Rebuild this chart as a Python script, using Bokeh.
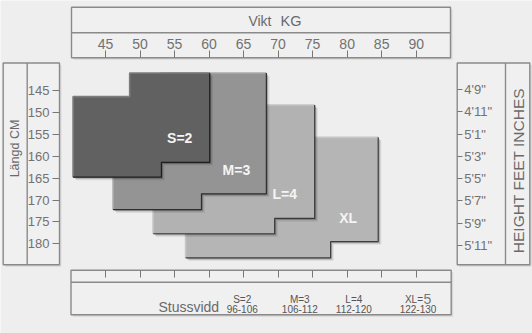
import math
from bokeh.plotting import figure
from bokeh.models import Range1d, LinearAxis, FixedTicker
from bokeh.core.properties import value
from bokeh.embed import file_html
from bokeh.resources import INLINE

# ---------------- data ----------------
size_names = ["S=2", "M=3", "L=4", "XL"]
# weight (kg) borders of each size block
w_left = [40.3, 46.1, 51.9, 56.6]
w_step_top = [48.5, 53.0, 60.0, 65.0]
w_right = [60.1, 68.3, 75.3, 84.5]
w_step_bottom = [53.1, 58.9, 69.5, 77.6]
# height (cm) borders of each size block
h_top_left = [146.4, 150.0, 160.0, 165.0]
h_top = [141.0, 141.0, 148.3, 155.7]
h_bottom_right = [161.4, 168.6, 174.2, 179.5]
h_bottom = [164.8, 172.2, 177.7, 183.2]

weight_ticks = [45, 50, 55, 60, 65, 70, 75, 80, 85, 90]
height_ticks = [145, 150, 155, 160, 165, 170, 175, 180]
feet_inches = [57, 59, 61, 63, 65, 67, 69, 71]
feet_labels = ['4\'9"', '4\'11"', '5\'1"', '5\'3"', '5\'5"', '5\'7"', '5\'9"', '5\'11"']
hip_sizes = ["S=2", "M=3", "L=4", "XL="]
hip_ranges = ["96-106", "106-112", "112-120", "122-130"]

# ---------------- styles / layout ----------------
FILLS = ["#616161", "#949494", "#b2b2b2", "#b5b5b5"]
HIGHLIGHTS = ["#7c7c7c", "#a9a9a9", "#c3c3c3", "#c5c5c5"]
EDGES = ["#1e1e1e", "#2e2e2e", "#3a3a3a", "#3e3e3e"]
BG = "#eeeeee"
PANEL_LINE = "#8a8a8a"
TXT = "#6a6a6a"
FONT = "Liberation Sans"
W, H = 532, 333

# pixel <-> data mapping (screen pixel of known ticks)
X45, PXKG = 105.0, 6.904
Y145, PXCM = 90.0, 4.38


def kg(px):
    return 45 + (px - X45) / PXKG


def cm(py):
    return 145 + (py - Y145) / PXCM


DKG = 1.0 / PXKG   # one pixel in kg
DCM = 1.0 / PXCM   # one pixel in cm

p = figure(width=W, height=H, x_range=Range1d(kg(0), kg(W)), y_range=Range1d(cm(H), cm(0)),
           min_border=0, x_axis_location=None, y_axis_location=None,
           output_backend="svg", toolbar_location=None)
p.outline_line_color = None
p.background_fill_color = BG
p.border_fill_color = BG
p.grid.visible = False

# ---------------- panels ----------------
panels = [  # (left, right, top, bottom) in px
    (71, 450, 6.7, 57.3),
    (2.7, 59, 62.5, 264.3),
    (456.7, 529.3, 62.5, 264.3),
    (70.5, 450.7, 269.7, 314.3),
]
for (l, r, t, b) in panels:
    p.quad(left=kg(l + 2), right=kg(r + 2), top=cm(t + 2), bottom=cm(b + 2),
           fill_color="#d9d9d9", line_color=None)
    p.quad(left=kg(l), right=kg(r), top=cm(t), bottom=cm(b),
           fill_color="#f0f0f0", line_color=PANEL_LINE, line_width=1.4)
# dividers
p.segment(x0=[kg(71), kg(70.5)], x1=[kg(450), kg(450.7)], y0=[cm(32.3), cm(281.7)],
          y1=[cm(32.3), cm(281.7)], line_color=PANEL_LINE, line_width=1.4)
p.segment(x0=[kg(26.7), kg(505)], x1=[kg(26.7), kg(505)], y0=[cm(62.5), cm(62.5)],
          y1=[cm(264.3), cm(264.3)], line_color=PANEL_LINE, line_width=1.4)


def style_axis(ax, size):
    ax.axis_line_color = None
    ax.major_tick_line_color = "#777777"
    ax.minor_tick_line_color = None
    ax.major_tick_in = 0
    ax.major_label_text_font = FONT
    ax.major_label_text_font_size = size
    ax.major_label_text_color = "#727272"


top_ax = LinearAxis(ticker=FixedTicker(ticks=weight_ticks), fixed_location=cm(57.3))
style_axis(top_ax, "14px")
top_ax.major_tick_out = 7
top_ax.major_label_standoff = 2
p.add_layout(top_ax, "above")

bot_ax = LinearAxis(ticker=FixedTicker(ticks=weight_ticks), fixed_location=cm(269.7))
style_axis(bot_ax, "1px")
bot_ax.major_tick_out = 7
bot_ax.major_label_text_color = None
p.add_layout(bot_ax, "below")

left_ax = LinearAxis(ticker=FixedTicker(ticks=height_ticks), fixed_location=kg(59))
style_axis(left_ax, "13px")
left_ax.major_tick_out = 7
left_ax.major_label_standoff = 3
p.add_layout(left_ax, "left")

inch_ticks = [v * 2.54 for v in feet_inches]
right_ax = LinearAxis(ticker=FixedTicker(ticks=inch_ticks), fixed_location=kg(456.7))
style_axis(right_ax, "13px")
right_ax.major_tick_out = 5
right_ax.major_label_standoff = 2
right_ax.major_label_overrides = {t: lab for t, lab in zip(inch_ticks, feet_labels)}
p.add_layout(right_ax, "right")

# ---------------- size blocks ----------------
for i in reversed(range(len(size_names))):
    L, sx, R, bx = w_left[i], w_step_top[i], w_right[i], w_step_bottom[i]
    sy, T, by, B = h_top_left[i], h_top[i], h_bottom_right[i], h_bottom[i]
    xs = [L, sx, sx, R, R, bx, bx, L]
    ys = [sy, sy, T, T, by, by, B, B]
    for off, a in ((3.0, 0.10), (1.6, 0.22)):
        p.patch([x + off * DKG for x in xs], [y + off * DCM for y in ys],
                fill_color="#000000", fill_alpha=a, line_color=None)
    p.patch(xs, ys, fill_color=FILLS[i], line_color=None)
    p.line([L, L, sx, sx, R], [B, sy, sy, T, T], line_color=HIGHLIGHTS[i], line_width=1.6)
    p.line([R, R, bx, bx, L], [T, by, by, B, B], line_color=EDGES[i], line_width=1.2)
    p.text(x=[R - 30 * DKG], y=[by - 24 * DCM], text=[size_names[i]],
           text_font=value(FONT), text_font_style="bold", text_font_size="14px",
           text_color="#f4f4f4", text_align="center", text_baseline="middle")

# ---------------- panel texts ----------------
p.text(x=[kg(271)], y=[cm(20)], text=["Vikt"], text_font=value(FONT),
       text_font_size="14px", text_color=TXT, text_align="right", text_baseline="middle")
p.text(x=[kg(280)], y=[cm(20)], text=["KG"], text_font=value(FONT),
       text_font_size="14.5px", text_color=TXT, text_align="left", text_baseline="middle")
p.text(x=[kg(14)], y=[cm(148)], text=["Längd CM"], angle=math.pi / 2, text_font=value(FONT),
       text_font_size="12.5px", text_color=TXT, text_align="center", text_baseline="middle")
p.text(x=[kg(518)], y=[cm(170)], text=["HEIGHT FEET INCHES"], angle=math.pi / 2,
       text_font=value(FONT), text_font_size="15.5px", text_color=TXT,
       text_align="center", text_baseline="middle")
p.text(x=[kg(188.3)], y=[cm(306.7)], text=["Stussvidd"], text_font=value(FONT),
       text_font_size="14px", text_color=TXT, text_align="center", text_baseline="alphabetic")

HIP_PX = [241.7, 299.3, 353.3, 417.5]
for i in range(len(hip_sizes)):
    if i == len(hip_sizes) - 1:
        p.text(x=[kg(HIP_PX[i] + 5)], y=[cm(298.5)], text=[hip_sizes[i]], text_font=value(FONT),
               text_font_size="10px", text_color="#555555", text_align="right",
               text_baseline="alphabetic")
        p.text(x=[kg(HIP_PX[i] + 5.5)], y=[cm(298.5)], text=["5"], text_font=value(FONT),
               text_font_size="14px", text_color="#777777", text_align="left",
               text_baseline="alphabetic")
    else:
        p.text(x=[kg(HIP_PX[i])], y=[cm(298.5)], text=[hip_sizes[i]], text_font=value(FONT),
               text_font_size="10px", text_color="#555555", text_align="center",
               text_baseline="alphabetic")
    p.text(x=[kg(HIP_PX[i])], y=[cm(308)], text=[hip_ranges[i]], text_font=value(FONT),
           text_font_size="10px", text_color="#555555", text_align="center",
           text_baseline="alphabetic")

open("out.html", "w").write(file_html(p, INLINE))
